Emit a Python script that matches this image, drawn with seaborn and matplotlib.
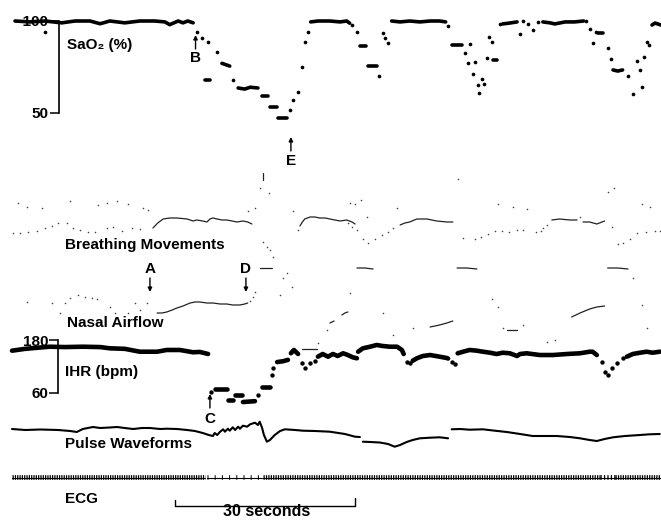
import numpy as np
import pandas as pd
import matplotlib
matplotlib.use("Agg")
import matplotlib.pyplot as plt
import seaborn as sns

sns.set_theme(style="white")
plt.rcParams['font.family'] = ['Liberation Sans', 'DejaVu Sans']
plt.rcParams['font.weight'] = 'bold'
plt.rcParams['lines.scale_dashes'] = False

# ---- data (time in seconds; None breaks a trace) ----
# SaO2 (%)
sao2_t = [2.5, 5.0, 7.5, 10.3, 12.5, 15.0, 16.7, 18.3, 20.8, 23.3, 25.8, 27.5, 28.3, 29.7, 30.5, 31.3, 32.2, None,
          34.2, 35.0, None, 37.0, 38.3, None, 39.7, 40.8, 41.7, 43.0, None, 43.7, 44.7, None,
          45.0, 46.2, None, 46.3, 47.8, None,
          51.8, 53.0, 54.2, 55.0, 56.7, 57.8, 58.3, None, 60.0, 61.0, None, 61.3, 62.8, None,
          65.3, 66.7, 68.3, 70.0, 71.7, 73.3, 74.3, None, 75.3, 77.0, None, 82.2, 82.8, None,
          83.8, 85.0, 86.2, None, 90.5, 91.7, 92.5, 94.2, 95.8, 97.3, None, 99.7, 100.5, None,
          102.2, 103.0, 103.8, None, 108.7, 109.2, 110.2]
sao2_v = [100, 99.5, 100, 99, 100, 100, 98.5, 100, 99, 100, 100, 99.5, 98, 100, 99, 100, 99, None,
          68, 68, None, 77, 75.5, None, 63.6, 63, 64, 63.6, None, 59.2, 59.2, None,
          53.3, 53.3, None, 47.3, 47.3, None,
          99.5, 100, 100, 100, 99.5, 100, 98.8, None, 86.4, 86.4, None, 75.5, 75.5, None,
          100, 99.5, 100, 99.5, 100, 100, 99.5, None, 87, 87, None, 78.8, 78.8, None,
          98.4, 98.9, 99.5, None, 99.5, 99, 98.4, 99.5, 99.5, 100, None, 93.5, 93.5, None,
          73.4, 72.8, 73.4, None, 97.8, 98.9, 97.8]
sao2_dot_t = [7.5, 32.8, 33.7, 34.7, 36.2, 38.8, 48.3, 48.8, 49.7, 50.3, 50.8, 51.3,
              58.7, 59.5, 63.2, 63.8, 64.2, 64.7, 74.7, 77.5, 78.0, 78.3, 78.8, 79.2, 79.7, 79.8,
              80.3, 80.7, 81.2, 81.5, 82.0, 83.3, 86.7, 87.2, 88.0, 88.8, 89.7, 97.7, 98.3, 98.8,
              99.3, 101.3, 101.8, 104.7, 105.5, 106.2, 106.7, 107.0, 107.3, 107.8, 108.2]
sao2_dot_v = [94, 94, 91, 88.6, 83.2, 67.9, 51.6, 57, 61.4, 75, 88.6, 94,
              97.8, 94, 70, 93.5, 90.8, 88, 97.3, 82.6, 77.2, 87.5, 71.2, 77.7, 65.2, 60.9,
              68.5, 65.8, 79.9, 91.3, 88.6, 98.4, 92.9, 100, 98.4, 95.1, 99.5, 100, 95.7, 88,
              94, 85.3, 79.3, 70.1, 60.3, 78.3, 73.4, 64.1, 80.4, 88.6, 87]

# Breathing movements (arbitrary units)
breath_t = [25.5, 26.3, 27.2, 28.3, 29.5, 31.2, 32.2, 32.8, 33.8, 34.5, 35.0, 35.5, 36.2, 37.0, 37.8, 38.7,
            39.5, 40.5, 41.3, 42.0, None, 43.8, 43.8, None,
            50.0, 50.3, 50.8, 51.7, 52.5, 53.3, 54.2, 55.0, 55.8, 56.7, 57.8, 58.7, 59.2, None,
            66.7, 67.5, 68.3, 69.5, 71.2, 72.8, 74.5, 75.5, None, 92.0, 93.3, 95.0, 96.2, None,
            97.2, 98.3, 99.5, 100.8]
breath_v = [2, 7, 11, 12, 12, 11, 9, 10, 9, 8, 11, 12, 11, 10, 10, 9,
            8, 9, 8, 6, None, 57, 50, None,
            4, 7, 11, 13, 13, 12, 12, 11, 10, 9, 10, 8, 6, None,
            5, 7, 8, 11, 11, 9, 8, 8, None, 10, 11, 10, 10, None,
            8, 8, 6, 9]
breath_dot_t = [2.2, 3.0, 3.3, 4.5, 4.7, 6.2, 7.0, 7.5, 8.7, 9.7, 11.2, 11.7, 12.2, 13.3, 14.7, 15.8, 16.3,
                17.8, 17.8, 18.8, 19.5, 20.3, 21.3, 22.0, 23.3, 23.8, 24.7, 41.3, 42.5, 43.3, 44.8, 48.8,
                49.7, 58.0, 58.3, 58.7, 59.2, 59.5, 60.2, 60.5, 61.2, 61.3, 62.5, 63.7, 64.7, 65.5, 66.2,
                76.3, 77.2, 79.2, 80.2, 81.3, 82.5, 83.0, 83.7, 84.8, 85.5, 86.2, 87.2, 87.8, 89.3, 90.2,
                90.5, 91.2, 96.7, 101.3, 102.0, 102.3, 103.0, 103.8, 105.0, 106.2, 107.0, 107.7, 108.3,
                109.2, 110.0]
breath_dot_v = [-3, 27, -3, 23, -2, -1, 22, 2, 4, 7, 7, 29, 2, 0, -2, -2, 25,
                27, 2, 3, 29, -1, 26, 2, 1, 22, 20, 19, 22, 42, 37, 19,
                0, 7, 27, 3, 26, 0, 30, -9, 13, -13, -9, -5, -2, 2, 22,
                51, -8, -9, -7, -4, -1, 26, -1, -2, 23, 0, 0, 21, -2, -1,
                2, 5, 13, 38, 3, 42, -14, -13, -9, -3, 26, -2, 23,
                -1, -1]

# Nasal airflow (arbitrary units)
nasal_t = [26.2, 27.0, 27.8, 28.7, 29.5, 30.5, 31.7, 32.5, 33.3, 34.5, 35.5, 36.7, 37.8, 38.8, 40.0, 40.8, 41.3,
           None, 43.3, 45.3, None, 50.3, 52.8, None, 55.0, 55.7, None, 57.0, 57.5, 58.0, None,
           59.5, 60.8, 62.2, None, 71.7, 73.3, 74.5, 75.5, None, 76.2, 77.8, 79.5, None,
           84.5, 86.2, None, 95.3, 96.7, 98.3, 99.5, 100.8, None, 101.3, 103.0, 104.7]
nasal_v = [-8, -8, -7, -5, -3, -1, 2, 3, 3, 2, 2, 1, 1, 0, 0, 1, 2,
           None, 37, 37, None, -44, -44, None, -18, -16, None, -10, -8, -7, None,
           37, 37, 36, None, -22, -20, -18, -16, None, 37, 37, 36, None,
           -25, -25, None, -12, -8, -4, -2, -1, None, 37, 37, 36]
nasal_dot_t = [4.5, 8.7, 10.0, 10.8, 11.7, 13.0, 14.2, 15.3, 16.2, 18.3, 19.2, 21.3, 22.5, 23.3, 24.5,
               41.7, 42.2, 42.5, 43.8, 44.5, 45.0, 45.5, 46.7, 47.2, 47.8, 48.7, 53.0, 54.5, 58.3,
               63.8, 65.5, 68.8, 82.0, 83.0, 83.8, 87.2, 91.2, 92.5, 105.5, 107.0, 107.8]
nasal_dot_v = [3, 2, -8, 2, 7, 10, 8, 7, 6, -2, -8, -8, 2, -5, 2,
               4, 8, 13, 63, 58, 55, 48, 10, 27, 32, 18, -38, -25, 12,
               -8, -30, -23, 6, -2, -23, -20, -37, -35, 27, 0, -23]

# Instantaneous heart rate (bpm)
ihr_t = [2.0, 4.2, 6.7, 8.3, 10.8, 13.8, 16.7, 18.3, 20.8, 23.3, 26.2, 27.8, 30.0, 32.2, 33.3, 34.7, None,
         35.8, 37.8, None, 38.0, 38.8, None, 39.2, 40.3, None, 40.5, 42.5, None, 43.7, 45.0, None,
         46.2, 47.2, 48.0, None, 48.5, 49.0, 49.7, None,
         53.0, 53.8, 54.7, 55.5, 56.3, 57.2, 58.0, 58.8, 59.5, None,
         59.7, 60.5, 61.7, 62.8, 63.8, 65.0, 66.2, 67.0, 67.3, None,
         68.8, 69.5, 70.5, 71.7, 73.3, 74.5, 74.7, None,
         76.3, 77.2, 78.3, 79.5, 80.5, 81.7, 82.8, 83.8, 85.0, 86.2, 86.7, 87.8, 90.0, 92.2, 94.5,
         96.7, 98.3, 98.8, 99.5, None, 104.5, 105.5, 106.7, 107.8, 108.8, 110.0]
ihr_v = [155.8, 160, 163, 164.8, 164, 164.8, 164, 161.2, 160, 153.5, 153.5, 157.4, 157.4, 152.2, 153, 148.3, None,
         70, 70, None, 44, 44, None, 55.5, 55.5, None, 39.5, 41.5, None, 73.6, 73.6, None,
         130, 132, 135, None, 150, 157.4, 148.3, None,
         142.2, 148.3, 142.2, 148.3, 143.8, 149.9, 146, 140.8, 138.6, None,
         153.5, 161.2, 164.8, 168.7, 166.4, 164.8, 164.8, 157.4, 148.3, None,
         133, 138.6, 143.8, 146, 142.2, 139.2, 138, None,
         149.9, 153.5, 157.4, 155.8, 153.5, 151.2, 148.3, 151.2, 149.9, 143.8, 148.3, 149.9, 146, 146, 148.3,
         149.9, 153.5, 153.5, 146, None, 142.2, 148.3, 151.2, 153.5, 151.2, 153.5]
ihr_dot_t = [35.2, 43.0, 45.3, 45.5, 50.3, 50.8, 51.7, 52.5, 67.8, 68.3, 75.3, 75.8,
             100.3, 100.8, 101.3, 102.0, 102.8, 103.8]
ihr_dot_v = [62.3, 55.5, 100.8, 116.6, 127.9, 116.6, 127.9, 131.5, 130.2, 128, 130.2, 125.7,
             130.2, 107.5, 100.8, 116.6, 127.9, 139.2]

# Pulse waveforms (arbitrary units)
pulse_t = [2.0, 4.2, 6.7, 9.7, 11.7, 12.8, 13.8, 15.5, 16.7, 18.3, 19.5, 20.8, 22.2, 23.7, 25.0, 26.7, 27.8,
           29.5, 31.2, 32.5, 33.8, 34.8, 35.5, 35.8, 36.2, 36.7, 37.2, 37.5, 38.0, 38.3, 38.8, 39.2, 39.7,
           40.0, 40.5, 41.2, 41.7, 42.2, 42.5, 43.0, 43.3, 43.7, 44.0, 44.5, 45.0, 45.8, 46.7, 47.5, 49.2,
           50.5, 52.5, 55.0, 57.5, 59.2, 60.0, None,
           60.5, 61.7, 63.3, 64.7, 65.8, 66.7, 67.8, 68.8, 70.0, 71.7, 73.3, 74.7, None,
           75.3, 76.7, 78.3, 80.5, 82.5, 84.5, 86.7, 88.8, 90.8, 92.8, 95.0, 96.7, 98.3, 99.5, 100.8,
           102.2, 104.2, 106.7, 108.3, 110.0]
pulse_v = [1, 0, 0.5, 0, -1, -2, 1, 3, 2, 2.5, 3, 2, 1, 2, 2, 1, 1.3,
           1, 0, -1, -3, -5, -6, -3, -5, -1.7, 0.7, -1.7, 1.3, -0.7, 2.7, 0, 3.3,
           1.3, 4.3, 3.3, 5.7, 6.7, 7.3, 5, 8.3, 2, -5, -11.7, -10, -5, -1, 0.7, 0,
           -0.7, -1, -1.7, -4, -6.7, -7, None,
           -11.7, -12, -12.5, -14, -16.7, -15, -12, -10, -8.3, -7.7, -7.3, -8.3, None,
           0.7, 1, 0.3, 0.7, -0.7, -2, -4, -6, -6, -6, -7, -8.3, -10, -11, -9,
           -7.3, -6, -5, -4.3, -4]

# ECG: stretches of recording and the heart rate within each
ecg_start = [2.0, 34.5, 43.8, 100.0, 102.5]
ecg_end = [34.2, 43.7, 100.0, 102.5, 110.2]
ecg_bpm = [155, 50, 150, 105, 150]

W, H = 661, 520
T_END = 110.2

fig = plt.figure(figsize=(W / 100, H / 100), dpi=100)
base = fig.add_axes([0, 0, 1, 1])
base.set_xlim(0, T_END)
base.set_ylim(H, 0)
base.axis('off')


def trace_axes(v_a, row_a, v_b, row_b):
    # overlay axes whose y scale puts v_a at pixel row row_a and v_b at row_b
    a = fig.add_axes([0, 0, 1, 1], sharex=base)
    a.patch.set_visible(False)
    k = (v_b - v_a) / (row_b - row_a)
    a.set_ylim(v_a + (H - row_a) * k, v_a - row_a * k)
    a.set_xticks([])
    a.set_yticks([])
    a.set_xlabel('')
    a.set_ylabel('')
    sns.despine(ax=a, left=True, bottom=True)
    return a


def to_df(t, v):
    seg = np.cumsum([x is None for x in t])
    return pd.DataFrame({'t': t, 'v': v, 'seg': seg}).dropna()


def draw(a, t, v, lw, color='black'):
    sns.lineplot(data=to_df(t, v), x='t', y='v', units='seg', estimator=None, sort=False,
                 color=color, lw=lw, ax=a, legend=False)


def dots(a, t, v, s, color='black'):
    sns.scatterplot(x=t, y=v, s=s, color=color, linewidth=0, ax=a, legend=False)


def bracket(a, x, lo, hi, labels):
    a.spines['left'].set_visible(True)
    a.spines['left'].set_position(('data', x))
    a.spines['left'].set_bounds(lo, hi)
    a.spines['left'].set_color('black')
    a.spines['left'].set_linewidth(1.2)
    a.set_yticks([lo, hi], labels)
    a.tick_params(axis='y', left=True, direction='out', length=6.2, width=1.1, pad=1,
                  labelsize=11, colors='black')


# SaO2
ax_s = trace_axes(100, 21, 50, 113)
draw(ax_s, sao2_t, sao2_v, 2.6)
dots(ax_s, sao2_dot_t, sao2_dot_v, 7)
bracket(ax_s, 9.8, 50, 100, ['50', '\u2013100'])
ax_s.set_xlim(0, T_END)

# breathing movements
ax_b = trace_axes(0, 230, 10, 220)
draw(ax_b, breath_t, breath_v, 0.9, '#222222')
dots(ax_b, breath_dot_t, breath_dot_v, 1.3, '#444444')

# nasal airflow
ax_n = trace_axes(0, 305, 10, 295)
draw(ax_n, nasal_t, nasal_v, 0.9, '#222222')
dots(ax_n, nasal_dot_t, nasal_dot_v, 1.3, '#444444')

# IHR
ax_h = trace_axes(180, 340, 60, 393)
draw(ax_h, ihr_t, ihr_v, 3.3)
dots(ax_h, ihr_dot_t, ihr_dot_v, 10)
bracket(ax_h, 9.7, 60, 180, ['60', '180'])

# pulse
ax_p = trace_axes(0, 430, 10, 420)
draw(ax_p, pulse_t, pulse_v, 1.5)

# ECG: one tick per beat, drawn as a dash pattern along the baseline
ax_e = trace_axes(0, 477, 10, 467)
px_per_s = W / T_END
for s0, s1, bpm in zip(ecg_start, ecg_end, ecg_bpm):
    period_pt = 60.0 / bpm * px_per_s * 0.72
    on = 0.9 if bpm > 80 else 0.7
    ax_e.plot([s0, s1], [0, 0], color='black', lw=3.4, solid_capstyle='butt',
              dashes=(on, max(period_pt - on, 0.3)))
    ax_e.plot([s0, s1], [-0.8, -0.8], color='black', lw=0.8)
ax_e.set_xlim(0, T_END)

# labels
lab = dict(fontsize=11, fontweight='bold', color='black', va='center')
base.text(11.2, 45, 'SaO\u2082 (%)', ha='left', **lab)
base.text(10.8, 245, 'Breathing Movements', ha='left', **lab)
base.text(11.2, 323, 'Nasal Airflow', ha='left', **lab)
base.text(10.8, 372, 'IHR (bpm)', ha='left', **lab)
base.text(10.8, 444, 'Pulse Waveforms', ha='left', **lab)
base.text(10.8, 499, 'ECG', ha='left', **lab)

marks = [('B', 32.6, 58, 49, 35), ('E', 48.5, 161, 151, 137), ('A', 25.0, 269, 278, 292),
         ('D', 41.0, 269, 278, 292), ('C', 35.0, 419, 408, 394)]
for letter, t, row, tail, head in marks:
    base.text(t, row, letter, ha='center', **lab)
    base.annotate('', xy=(t, head), xytext=(t, tail),
                  arrowprops=dict(arrowstyle='-|>', color='black', lw=1.0,
                                  mutation_scale=6, shrinkA=0, shrinkB=0))

# 30 s scale bar
bar_t0 = 29.2
base.plot([bar_t0, bar_t0, bar_t0 + 30, bar_t0 + 30], [500, 506, 506, 498], color='black', lw=1.0)
base.text(bar_t0 + 15.3, 512, '30 seconds', ha='center', fontsize=11.5, fontweight='bold',
          color='black', va='center')

fig.savefig('out.png', dpi=100, facecolor='white')
